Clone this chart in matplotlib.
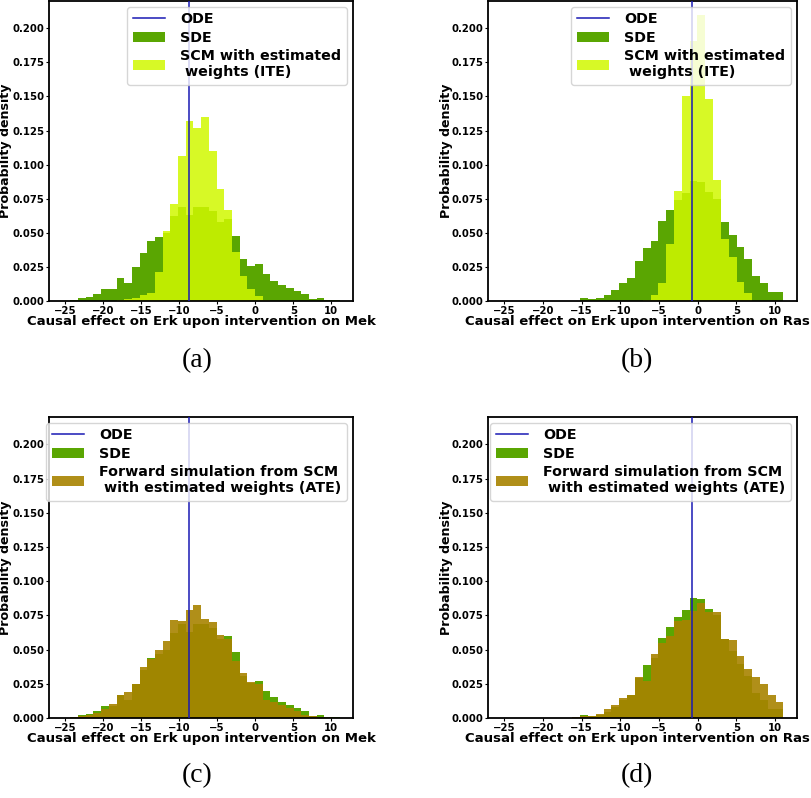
import numpy as np
import matplotlib
matplotlib.use("Agg")
import matplotlib.pyplot as plt

# ---- data ----
BIN_LO, BIN_HI, N_BINS = -25.3, 11.1, 36

sde_mek = [0.0003, 0.0007, 0.002, 0.003, 0.005, 0.0088, 0.0088, 0.0166, 0.013, 0.025,
           0.035, 0.044, 0.047, 0.050, 0.062, 0.069, 0.063, 0.069, 0.069, 0.066,
           0.058, 0.060, 0.048, 0.031, 0.0256, 0.027, 0.020, 0.015, 0.0117, 0.0097,
           0.0075, 0.005, 0.0015, 0.0022, 0.0007, 0.0005]
ite_mek = [0, 0, 0, 0, 0, 0, 0, 0.0005, 0.0015, 0.0025,
           0.0045, 0.006, 0.021, 0.051, 0.071, 0.106, 0.132, 0.127, 0.135, 0.110,
           0.082, 0.067, 0.036, 0.018, 0.009, 0.004, 0.001, 0, 0, 0,
           0, 0, 0, 0, 0, 0]
ate_mek = [0.0003, 0.0005, 0.0015, 0.0025, 0.0037, 0.0066, 0.010, 0.0168, 0.0188, 0.025,
           0.037, 0.043, 0.050, 0.056, 0.0715, 0.0707, 0.079, 0.0825, 0.0725, 0.070,
           0.061, 0.0577, 0.0415, 0.033, 0.026, 0.025, 0.013, 0.012, 0.0095, 0.007,
           0.005, 0.0025, 0.0012, 0.001, 0.0005, 0.0002]

sde_ras = [0, 0, 0, 0, 0, 0, 0, 0, 0, 0,
           0.002, 0.0015, 0.002, 0.0044, 0.008, 0.013, 0.0166, 0.0296, 0.039, 0.044,
           0.0585, 0.0665, 0.074, 0.079, 0.0878, 0.087, 0.080, 0.075, 0.058, 0.0487,
           0.0397, 0.0305, 0.0185, 0.0134, 0.0068, 0.0068]
ite_ras = [0, 0, 0, 0, 0, 0, 0, 0, 0, 0,
           0, 0, 0, 0, 0, 0, 0, 0, 0.0005, 0.0044,
           0.0134, 0.042, 0.081, 0.150, 0.191, 0.210, 0.148, 0.089, 0.0458, 0.0324,
           0.014, 0.0056, 0, 0, 0, 0]
ate_ras = [0, 0, 0, 0, 0, 0, 0, 0, 0, 0.0005,
           0.0015, 0.0015, 0.003, 0.0066, 0.0098, 0.0146, 0.0166, 0.0298, 0.027, 0.047,
           0.055, 0.060, 0.0707, 0.0715, 0.078, 0.084, 0.0776, 0.0776, 0.058, 0.0573,
           0.0456, 0.036, 0.030, 0.025, 0.0166, 0.0117]

ode_mek = -8.66
ode_ras = -0.74

xlabels = ["Causal effect on Erk upon intervention on Mek",
           "Causal effect on Erk upon intervention on Ras"]
ite_label = "SCM with estimated\n weights (ITE)"
ate_label = "Forward simulation from SCM\n with estimated weights (ATE)"
panel_tags = ["(a)", "(b)", "(c)", "(d)"]

# ---- style ----
C_SDE = "#5aa602"
C_ITE = "#d0f800"
C_ATE = "#a88300"
C_ODE = "#1a1ab4"

W, H = 812, 798
fig = plt.figure(figsize=(W / 100, H / 100), dpi=100)
plt.rcParams["font.family"] = "DejaVu Sans"

def rect(l, t, r, b):
    return [l / W, 1 - b / H, (r - l) / W, (b - t) / H]

edges = np.linspace(BIN_LO, BIN_HI, N_BINS + 1)
centers = 0.5 * (edges[:-1] + edges[1:])

panels = [
    (rect(49, 1, 353, 301), sde_mek, ite_mek, C_ITE, ite_label, 0.85, ode_mek, xlabels[0]),
    (rect(488, 1, 797, 301), sde_ras, ite_ras, C_ITE, ite_label, 0.85, ode_ras, xlabels[1]),
    (rect(49, 417, 353, 718), sde_mek, ate_mek, C_ATE, ate_label, 0.9, ode_mek, xlabels[0]),
    (rect(488, 417, 797, 718), sde_ras, ate_ras, C_ATE, ate_label, 0.9, ode_ras, xlabels[1]),
]

for i, (pos, sde, est, cest, lest, aest, ode, xl) in enumerate(panels):
    ax = fig.add_axes(pos)
    ax.axvline(ode, color=C_ODE, lw=1.1, label="ODE", zorder=3)
    ax.hist(centers, bins=edges, weights=sde, color=C_SDE, label="SDE", zorder=1)
    ax.hist(centers, bins=edges, weights=est, color=cest, alpha=aest, label=lest, zorder=2)
    ax.set_xlim(-27.1, 12.85)
    ax.set_ylim(0, 0.22)
    ax.set_xticks([-25, -20, -15, -10, -5, 0, 5, 10])
    ax.set_yticks(np.arange(0, 0.2001, 0.025))
    ax.set_yticklabels([f"{v:.3f}" for v in np.arange(0, 0.2001, 0.025)])
    ax.tick_params(labelsize=7.3, length=2, pad=1.5)
    for lab in ax.get_xticklabels() + ax.get_yticklabels():
        lab.set_fontweight("bold")
    for s in ax.spines.values():
        s.set_linewidth(1.3)
    ax.set_xlabel(xl, fontsize=9.5, fontweight="bold")
    ax.xaxis.set_label_coords(0.5 if i % 2 == 0 else 0.482, -0.045)
    ax.set_ylabel("Probability density", fontsize=9.1, fontweight="bold")
    ax.yaxis.set_label_coords(-0.122 if i % 2 == 0 else -0.113, 0.5)
    leg = ax.legend(loc="upper right", prop={"weight": "bold", "size": 10.3},
                    handlelength=2.2, handletextpad=1.1, borderaxespad=0.4,
                    labelspacing=0.3)

tag_pos = [(197, 361), (637, 361), (197, 776), (637, 776)]
for t, (x, y) in zip(panel_tags, tag_pos):
    fig.text(x / W, 1 - y / H, t, ha="center", va="center",
             fontsize=20, family="Liberation Serif")

fig.savefig("out.png", dpi=100)
